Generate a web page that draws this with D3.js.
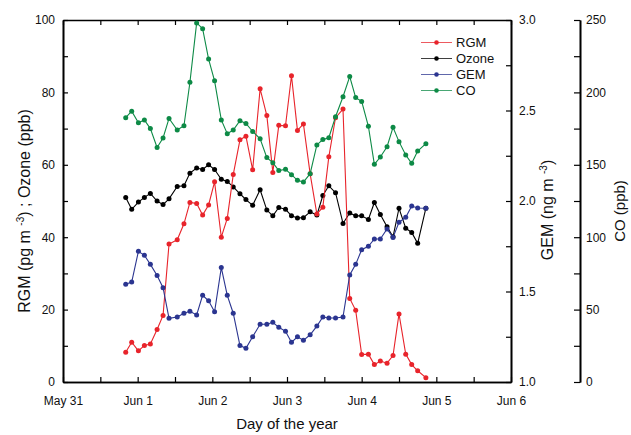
<!DOCTYPE html>
<meta charset="utf-8">
<style>
    body { margin: 0; background: #fff; }
    svg { font-family: "Liberation Sans", Arial, sans-serif; }
    .axis path, .axis line { stroke: #000; }
    .axis path { stroke-width: 1.6px; }
    .axis line { stroke-width: 1.2px; }
    .axis text { font-size: 12px; fill: #111; }
    .series path { fill: none; stroke-width: 1.1px; }
    .title { font-size: 15px; fill: #111; }
    .legend text { font-size: 13px; fill: #111; }
</style>
<svg width="631" height="435"></svg>
<script src="https://d3js.org/d3.v7.min.js"></script>
<script>

    // day of year (May 31 = 151)
    var days = [151.84, 151.92, 152.01, 152.09, 152.17, 152.26, 152.34, 152.42, 152.53, 152.62,
        152.70, 152.79, 152.87, 152.95, 153.03, 153.12, 153.20, 153.28, 153.37, 153.45,
        153.54, 153.64, 153.73, 153.81, 153.89, 153.98, 154.06, 154.14, 154.22, 154.31,
        154.40, 154.48, 154.56, 154.65, 154.75, 154.84, 154.92, 155.00, 155.09, 155.17,
        155.25, 155.34, 155.42, 155.50, 155.59, 155.67, 155.75, 155.86];

    var rgm = [8.2, 11, 8.6, 10.1, 10.5, 14.5, 18.4, 38.1, 39.3, 43.7,
        49.6, 49.3, 46.1, 48.9, 55.3, 40, 45.2, 57.3, 66.9, 67.9,
        58.6, 81, 73.6, 57.9, 70.9, 70.8, 84.6, 69.5, 71.3, 57.5,
        46.4, 48.3, 62.2, 73, 75.4, 23.1, 19.8, 7.6, 7.7, 4.8,
        5.8, 5.2, 7.3, 18.8, 7.7, 4.8, 3.1, 1.2];

    var ozone = [51.0, 47.7, 49.7, 51.0, 52.1, 50, 49, 50.6, 54, 54.2,
        57.7, 59.1, 58.7, 60, 58.7, 56, 55.4, 53.9, 52, 50.4,
        48.8, 53.1, 47.5, 45.9, 48.2, 47.7, 45.9, 45.3, 45.4, 47,
        46.1, 51.5, 54.2, 52.3, 43.8, 46.7, 45.9, 45.9, 44.9, 49.6,
        46.3, 42.9, 40.1, 48, 42.5, 41.3, 38.3, 48];

    var gem = [1.540, 1.552, 1.722, 1.700, 1.650, 1.589, 1.521, 1.352, 1.359, 1.380,
        1.391, 1.370, 1.479, 1.449, 1.388, 1.632, 1.479, 1.380, 1.201, 1.186,
        1.250, 1.319, 1.319, 1.330, 1.302, 1.280, 1.219, 1.250, 1.230, 1.261,
        1.309, 1.359, 1.354, 1.354, 1.359, 1.591, 1.650, 1.731, 1.750, 1.790,
        1.790, 1.845, 1.799, 1.882, 1.910, 1.972, 1.961, 1.960];

    var co = [182.5, 187, 179, 181, 175, 162, 168.5, 182, 174, 177,
        207, 248, 244, 223, 208, 181, 171.5, 174, 180.5, 178.6,
        173, 168, 155, 151.5, 146, 146.9, 143.2, 139.3, 138.1, 143.9,
        163.7, 167.4, 168.7, 183.2, 197, 210.9, 196.4, 193.8, 176.6, 150.3,
        155.4, 162.5, 175.9, 166, 156.8, 151, 159.5, 164.6];

    var seriesNames = ["RGM", "Ozone", "GEM", "CO"];
    var seriesColors = ["#e8242b", "#000000", "#2b3590", "#0d8a46"];

    var dayTicks = [151, 152, 153, 154, 155, 156, 157];
    var dayLabels = ["May 31", "Jun 1", "Jun 2", "Jun 3", "Jun 4", "Jun 5", "Jun 6"];
    var dayMinor = [151.5, 152.5, 153.5, 154.5, 155.5, 156.5];
    var leftTicks = [0, 20, 40, 60, 80, 100];
    var leftMinor = [10, 30, 50, 70, 90];
    var gemTicks = [1.0, 1.5, 2.0, 2.5, 3.0];
    var gemMinor = [1.25, 1.75, 2.25, 2.75];
    var coTicks = [0, 50, 100, 150, 200, 250];
    var coMinor = [25, 75, 125, 175, 225];

    var svg = d3.select("svg");

    var x = d3.scaleLinear().domain([151, 157]).range([63, 511]);
    var yLeft = d3.scaleLinear().domain([0, 100]).range([382, 20]);
    var yGem = d3.scaleLinear().domain([1, 3]).range([382, 20]);
    var yCo = d3.scaleLinear().domain([0, 250]).range([382, 20]);

    // axes
    function addAxis(axis, tx, ty) {
        return svg.append("g")
            .attr("class", "axis")
            .attr("transform", "translate(" + tx + "," + ty + ")")
            .call(axis);
    }

    addAxis(d3.axisBottom(x).tickValues(dayTicks)
        .tickFormat(function (d, i) { return dayLabels[i]; })
        .tickSize(-5).tickSizeOuter(0).tickPadding(14), 0, 382);
    addAxis(d3.axisBottom(x).tickValues(dayMinor).tickFormat("")
        .tickSize(-5).tickSizeOuter(0), 0, 382);
    addAxis(d3.axisTop(x).tickValues(dayTicks.concat(dayMinor)).tickFormat("")
        .tickSize(-5).tickSizeOuter(0), 0, 20);

    addAxis(d3.axisLeft(yLeft).tickValues(leftTicks)
        .tickSize(-5).tickSizeOuter(0).tickPadding(8), 63, 0);
    addAxis(d3.axisLeft(yLeft).tickValues(leftMinor).tickFormat("")
        .tickSize(-5).tickSizeOuter(0), 63, 0);

    addAxis(d3.axisRight(yGem).tickValues(gemTicks).tickFormat(d3.format(".1f"))
        .tickSize(-5).tickSizeOuter(0).tickPadding(8), 511, 0);
    addAxis(d3.axisRight(yGem).tickValues(gemMinor).tickFormat("")
        .tickSize(-5).tickSizeOuter(0), 511, 0);

    addAxis(d3.axisRight(yCo).tickValues(coTicks)
        .tickSize(-6).tickSizeOuter(0).tickPadding(6), 580, 0);
    addAxis(d3.axisRight(yCo).tickValues(coMinor).tickFormat("")
        .tickSize(-6).tickSizeOuter(0), 580, 0);

    // series, drawn ozone first so the coloured points sit on top
    var seriesData = [rgm, ozone, gem, co];
    var seriesScales = [yLeft, yLeft, yGem, yCo];
    var drawOrder = [1, 0, 2, 3];

    drawOrder.forEach(function (k) {
        var yS = seriesScales[k];
        var pts = days.map(function (d, i) { return [d, seriesData[k][i]]; });
        var g = svg.append("g").attr("class", "series");

        g.append("path")
            .datum(pts)
            .attr("stroke", seriesColors[k])
            .attr("d", d3.line()
                .x(function (d) { return x(d[0]); })
                .y(function (d) { return yS(d[1]); }));

        g.selectAll("circle")
            .data(pts)
            .enter().append("circle")
            .attr("cx", function (d) { return x(d[0]); })
            .attr("cy", function (d) { return yS(d[1]); })
            .attr("r", 2.5)
            .attr("fill", seriesColors[k]);
    });

    // legend
    var legend = svg.append("g").attr("class", "legend")
        .selectAll("g")
        .data(seriesNames)
        .enter().append("g")
        .attr("transform", function (d, i) { return "translate(0," + (42.5 + i * 16) + ")"; });

    legend.append("line")
        .attr("x1", 421).attr("x2", 452)
        .attr("stroke", function (d, i) { return seriesColors[i]; })
        .attr("stroke-width", 1)
        .attr("opacity", 0.75);
    legend.append("circle")
        .attr("cx", 436.5).attr("r", 2.3)
        .attr("fill", function (d, i) { return seriesColors[i]; });
    legend.append("text")
        .attr("x", 456).attr("dy", "0.36em")
        .text(function (d) { return d; });

    // axis titles
    svg.append("text").attr("class", "title")
        .attr("x", 287).attr("y", 429)
        .attr("text-anchor", "middle")
        .text("Day of the year");

    var lt = svg.append("text").attr("class", "title")
        .attr("transform", "translate(30,211) rotate(-90)")
        .attr("text-anchor", "middle")
        .style("font-size", "16px");
    lt.append("tspan").text("RGM (pg m ");
    lt.append("tspan").attr("dy", -6).style("font-size", "10px").text("-3");
    lt.append("tspan").attr("dy", 6).text(") ; Ozone (ppb)");

    var gt = svg.append("text").attr("class", "title")
        .attr("transform", "translate(553,210) rotate(-90)")
        .attr("text-anchor", "middle")
        .style("font-size", "16px");
    gt.append("tspan").text("GEM (ng m ");
    gt.append("tspan").attr("dy", -6).style("font-size", "10px").text("-3");
    gt.append("tspan").attr("dy", 6).text(")");

    svg.append("text").attr("class", "title")
        .attr("transform", "translate(625,211) rotate(-90)")
        .attr("text-anchor", "middle")
        .style("font-size", "15px")
        .text("CO (ppb)");

</script>
